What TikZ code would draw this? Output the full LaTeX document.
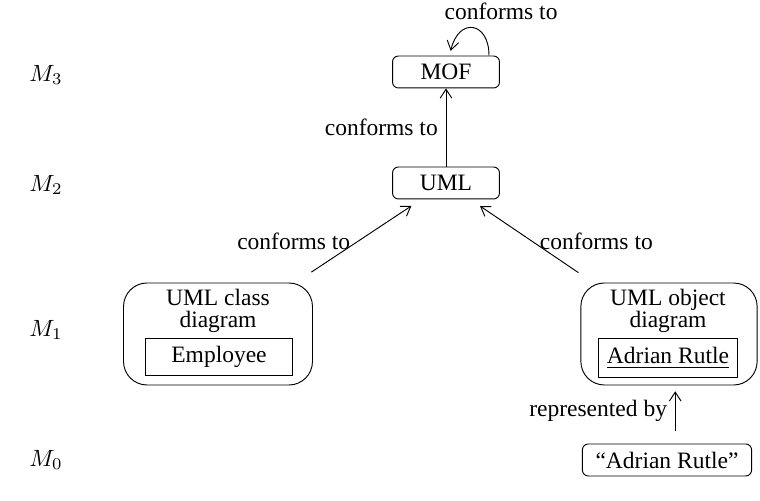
\documentclass[tikz,border=0pt]{standalone}
\usepackage{fontspec}
\setmainfont{Liberation Serif}
\usetikzlibrary{arrows.meta}

\tikzset{
  mbox/.style={draw, rounded corners=2.5pt, minimum width=45.5pt, minimum height=13.6pt, inner sep=2pt},
  diagbox/.style={draw, rounded corners=10pt, minimum height=43.4pt},
  instbox/.style={draw, minimum height=16pt, inner sep=2pt},
  lbl/.style={inner sep=3.3pt}
}

\begin{document}
\begin{tikzpicture}[x=0.4255pt,y=0.4255pt, >={Straight Barb[length=3.8pt,width=5pt]}]
  \useasboundingbox (0,0) rectangle (760,501);

  % levels
  \node (m3) at (46,426) {$M_3$};
  \node (m2) at (46,316) {$M_2$};
  \node (m1) at (46,171) {$M_1$};
  \node (m0) at (46,41) {$M_0$};

  \node[mbox] (mof) at (446,429) {MOF};
  \node[mbox] (uml) at (446,318) {UML};

  \node[diagbox, minimum width=80.4pt] (clsdiag) at (218,167) {};
  \node[align=center, inner sep=0] (clstitle) at (218,190) {UML class\\[-2.6pt]diagram};
  \node[instbox, minimum width=62.5pt] (employee) at (219,144) {Employee};

  \node[diagbox, minimum width=75pt] (objdiag) at (669,167) {};
  \node[align=center, inner sep=0] (objtitle) at (668,190) {UML object\\[-2.6pt]diagram};
  \node[instbox, minimum width=59pt, minimum height=17pt] (adrian) at (668,143) {\underline{Adrian Rutle}};

  \node[mbox, minimum width=72pt] (literal) at (667,41) {``Adrian Rutle''};

  % conformance
  \draw[->] ([xshift=18.3pt]mof.north) .. controls +(0,34) and +(8,34) .. ([xshift=2pt,yshift=2pt]mof.north)
    node[lbl, pos=0.5, above, xshift=12pt] {conforms to};
  \draw[->] (uml) -- (mof) node[lbl, midway, left] {conforms to};
  \draw[->, shorten <=8pt, shorten >=5pt] (clsdiag) -- (uml) node[lbl, midway, left] {conforms to};
  \draw[->, shorten <=7.5pt, shorten >=5pt] (objdiag) -- (uml) node[lbl, midway, right] {conforms to};
  \draw[->] ([xshift=3.5pt,yshift=5.5pt]literal.north) -- ([xshift=3.5pt,yshift=-2.5pt]literal.north |- objdiag.south)
    node[lbl, midway, left] {represented by};
\end{tikzpicture}
\end{document}
